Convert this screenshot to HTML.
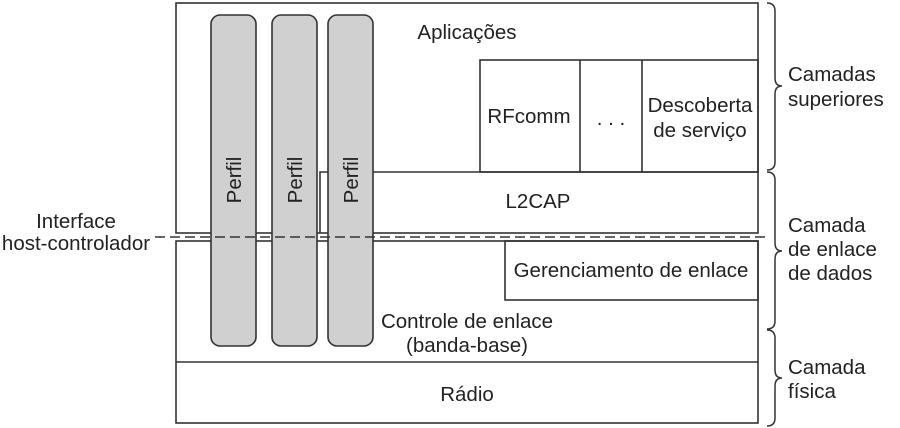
<!DOCTYPE html>
<html><head><meta charset="utf-8"><style>body{margin:0;background:#fff}svg{display:block}text{font-family:"Liberation Sans",sans-serif;font-size:20.5px;fill:#222}</style></head><body>
<svg width="900" height="428" viewBox="0 0 900 428" xmlns="http://www.w3.org/2000/svg">
<g fill="none" stroke="#333" stroke-width="1.6">
<rect x="176" y="3" width="582" height="230"/>
<rect x="176" y="241" width="582" height="182"/>
<line x1="176" y1="362" x2="758" y2="362"/>
<rect x="480" y="60" width="278" height="112"/>
<line x1="580" y1="60" x2="580" y2="172"/>
<line x1="642" y1="60" x2="642" y2="172"/>
<polyline points="320,233 320,172 758,172"/>
<rect x="505" y="241" width="253" height="59"/>
</g>
<g fill="#d0d0d0" stroke="#333" stroke-width="1.6">
<rect x="211" y="15" width="45" height="331" rx="9"/>
<rect x="272" y="15" width="45" height="331" rx="9"/>
<rect x="328" y="15" width="45" height="331" rx="9"/>
</g>
<line x1="155" y1="237" x2="770" y2="237" stroke="#333" stroke-width="1.5" stroke-dasharray="10,5"/>
<g fill="none" stroke="#333" stroke-width="1.5">
<path d="M767,3 q8,0 8,8 v67 q0,8 7,8 q-7,0 -7,8 v68 q0,8 -8,8"/>
<path d="M767,172 q8,0 8,8 v63 q0,8 7,8 q-7,0 -7,8 v62 q0,8 -8,8"/>
<path d="M767,330 q8,0 8,8 v32 q0,8 7,8 q-7,0 -7,8 v32 q0,8 -8,8"/>
</g>
<text x="467" y="39" text-anchor="middle">Aplicações</text>
<text x="529" y="123" text-anchor="middle">RFcomm</text>
<text x="611" y="125" text-anchor="middle">. . .</text>
<text x="700" y="112" text-anchor="middle">Descoberta</text>
<text x="700" y="137" text-anchor="middle">de serviço</text>
<text x="538" y="208" text-anchor="middle">L2CAP</text>
<text x="631" y="277" text-anchor="middle">Gerenciamento de enlace</text>
<text x="467" y="328" text-anchor="middle">Controle de enlace</text>
<text x="467" y="352" text-anchor="middle">(banda-base)</text>
<text x="467" y="401" text-anchor="middle">Rádio</text>
<text x="76" y="228" text-anchor="middle">Interface</text>
<text x="76" y="250" text-anchor="middle">host-controlador</text>
<text x="788" y="81">Camadas</text>
<text x="788" y="106">superiores</text>
<text x="788" y="232">Camada</text>
<text x="788" y="256">de enlace</text>
<text x="788" y="280">de dados</text>
<text x="788" y="374">Camada</text>
<text x="788" y="398">física</text>
<text transform="translate(241,180) rotate(-90)" text-anchor="middle">Perfil</text>
<text transform="translate(302,180) rotate(-90)" text-anchor="middle">Perfil</text>
<text transform="translate(358,180) rotate(-90)" text-anchor="middle">Perfil</text>
</svg>
</body></html>
